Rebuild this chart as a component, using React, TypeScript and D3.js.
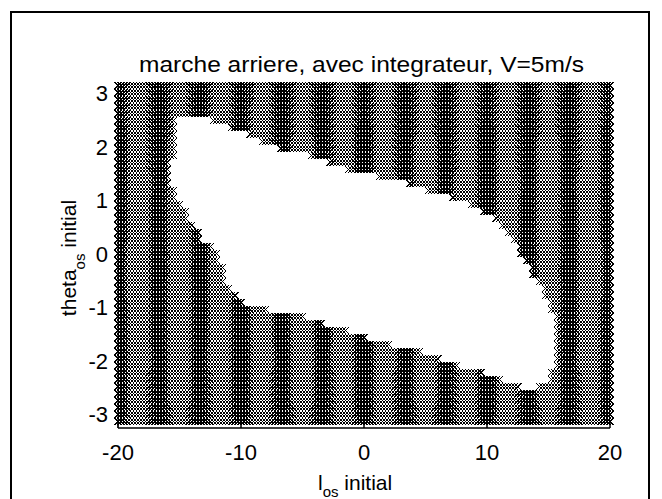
import React, { useEffect, useRef } from 'react';
import * as d3 from 'd3';

// simulation grid (l_os in m, theta_os in rad)
const lGrid = d3.range(-80, 81).map((i) => i * 0.25);
const thetaGrid = d3.range(-24, 25).map((i) => (i * Math.PI) / 24);

// white (converging) region, per l column: theta from whiteLow to whiteHigh
const whiteL = [
  -15.5, -15, -14.5, -14, -13.5, -13, -12.5, -12, -11.5, -11, -10.5, -10, -9.5, -9, -8.5, -8,
  -7.5, -7, -6.5, -6, -5.5, -5, -4.5, -4, -3.5, -3, -2.5, -2, -1.5, -1, -0.5, 0,
  0.5, 1, 1.5, 2, 2.5, 3, 3.5, 4, 4.5, 5, 5.5, 6, 6.5, 7, 7.5, 8,
  8.5, 9, 9.5, 10, 10.5, 11, 11.5, 12, 12.5, 13, 13.5, 14, 14.5, 15, 15.5
];
const whiteHigh = [
  1.75, 2.49, 2.59, 2.59, 2.59, 2.59, 2.49, 2.42, 2.42, 2.4, 2.35, 2.29, 2.23, 2.16, 2.1, 2.07,
  2.03, 1.97, 1.95, 1.93, 1.92, 1.88, 1.86, 1.8, 1.77, 1.73, 1.69, 1.65, 1.62, 1.56, 1.52, 1.49,
  1.47, 1.45, 1.43, 1.41, 1.39, 1.37, 1.32, 1.26, 1.22, 1.19, 1.15, 1.11, 1.09, 1.06, 1.02, 0.98,
  0.94, 0.91, 0.85, 0.78, 0.7, 0.59, 0.44, 0.31, 0.16, -0.03, -0.21, -0.46, -0.61, -0.79, -1.06
];
const whiteLow = [
  1.22, 1.04, 0.85, 0.59, 0.4, 0.25, 0.14, 0.03, -0.16, -0.53, -0.72, -0.83, -0.93, -0.94, -0.96, -1.02,
  -1.07, -1.11, -1.11, -1.13, -1.15, -1.17, -1.21, -1.24, -1.28, -1.32, -1.36, -1.39, -1.43, -1.47, -1.5, -1.54,
  -1.58, -1.6, -1.64, -1.67, -1.71, -1.75, -1.77, -1.79, -1.82, -1.88, -1.92, -1.95, -1.99, -2.03, -2.07, -2.1,
  -2.12, -2.16, -2.2, -2.24, -2.27, -2.33, -2.36, -2.4, -2.44, -2.5, -2.53, -2.55, -2.48, -2.36, -2.18
];

const xTicks = [-20, -10, 0, 10, 20];
const yTicks = [-3, -2, -1, 0, 1, 2, 3];

const App = () => {
  const svgRef = useRef<SVGSVGElement>(null);

  useEffect(() => {
    const w = 662;
    const h = 499;
    const x = d3.scaleLinear().domain([-20, 20]).range([118, 610]);
    const y = d3.scaleLinear().domain([-3, 3]).range([414, 93]);
    const axisY = 428;
    const font = 'Liberation Sans, Arial, sans-serif';

    const svg = d3.select(svgRef.current).attr('width', w).attr('height', h);
    svg.selectAll('*').remove();

    svg.append('rect').attr('width', w).attr('height', h).attr('fill', 'white');

    // outer figure frame
    svg.append('rect')
      .attr('x', 11).attr('y', 12).attr('width', 638).attr('height', 560)
      .attr('fill', 'none').attr('stroke', 'black').attr('stroke-width', 2);

    // markers, one path
    const hs = 3.5;
    let d = '';
    lGrid.forEach((l) => {
      const key = Math.round(l * 2) / 2;
      const k = whiteL.findIndex((v) => Math.abs(v - key) < 1e-6);
      thetaGrid.forEach((t) => {
        if (k >= 0 && t >= whiteLow[k] && t <= whiteHigh[k]) return;
        const cx = x(l);
        const cy = y(t);
        d += `M${cx - hs},${cy - hs}L${cx + hs},${cy + hs}M${cx - hs},${cy + hs}L${cx + hs},${cy - hs}`;
      });
    });
    svg.append('path')
      .attr('d', d)
      .attr('fill', 'none')
      .attr('stroke', 'black')
      .attr('stroke-width', 1)
      .attr('shape-rendering', 'crispEdges');

    // axes lines
    svg.append('line')
      .attr('x1', 118).attr('x2', 610).attr('y1', axisY).attr('y2', axisY)
      .attr('stroke', 'black').attr('stroke-width', 1.5);
    svg.append('line')
      .attr('x1', 118).attr('x2', 118).attr('y1', 85).attr('y2', axisY)
      .attr('stroke', 'black').attr('stroke-width', 1);

    svg.selectAll('.xtick')
      .data(xTicks)
      .enter()
      .append('line')
      .attr('x1', (v) => x(v)).attr('x2', (v) => x(v))
      .attr('y1', axisY).attr('y2', axisY - 6)
      .attr('stroke', 'black').attr('stroke-width', 1.5);

    svg.selectAll('.xlab')
      .data(xTicks)
      .enter()
      .append('text')
      .text((v) => String(v))
      .attr('x', (v) => x(v))
      .attr('y', 460)
      .attr('text-anchor', 'middle')
      .attr('font-family', font)
      .attr('font-size', 22);

    svg.selectAll('.ylab')
      .data(yTicks)
      .enter()
      .append('text')
      .text((v) => String(v))
      .attr('x', 108)
      .attr('y', (v) => y(v) + 8)
      .attr('text-anchor', 'end')
      .attr('font-family', font)
      .attr('font-size', 22);

    // title
    svg.append('text')
      .text('marche arriere, avec integrateur, V=5m/s')
      .attr('x', 139)
      .attr('y', 72)
      .attr('textLength', 445)
      .attr('lengthAdjust', 'spacingAndGlyphs')
      .attr('font-family', font)
      .attr('font-size', 22);

    // x label
    const xl = svg.append('text')
      .attr('x', 318)
      .attr('y', 490)
      .attr('font-family', font)
      .attr('font-size', 21);
    xl.append('tspan').text('l');
    xl.append('tspan').text('os').attr('dy', 7).attr('font-size', 15);
    xl.append('tspan').text(' initial').attr('dy', -7);

    // y label
    const yl = svg.append('text')
      .attr('transform', 'translate(76,258) rotate(-90)')
      .attr('text-anchor', 'middle')
      .attr('font-family', font)
      .attr('font-size', 21);
    yl.append('tspan').text('theta');
    yl.append('tspan').text('os').attr('dy', 9).attr('font-size', 15);
    yl.append('tspan').text(' initial').attr('dy', -9);
  }, []);

  return (
    <svg ref={svgRef} style={{ position: 'absolute', left: 0, top: 0, display: 'block' }}></svg>
  );
};

export default App;
